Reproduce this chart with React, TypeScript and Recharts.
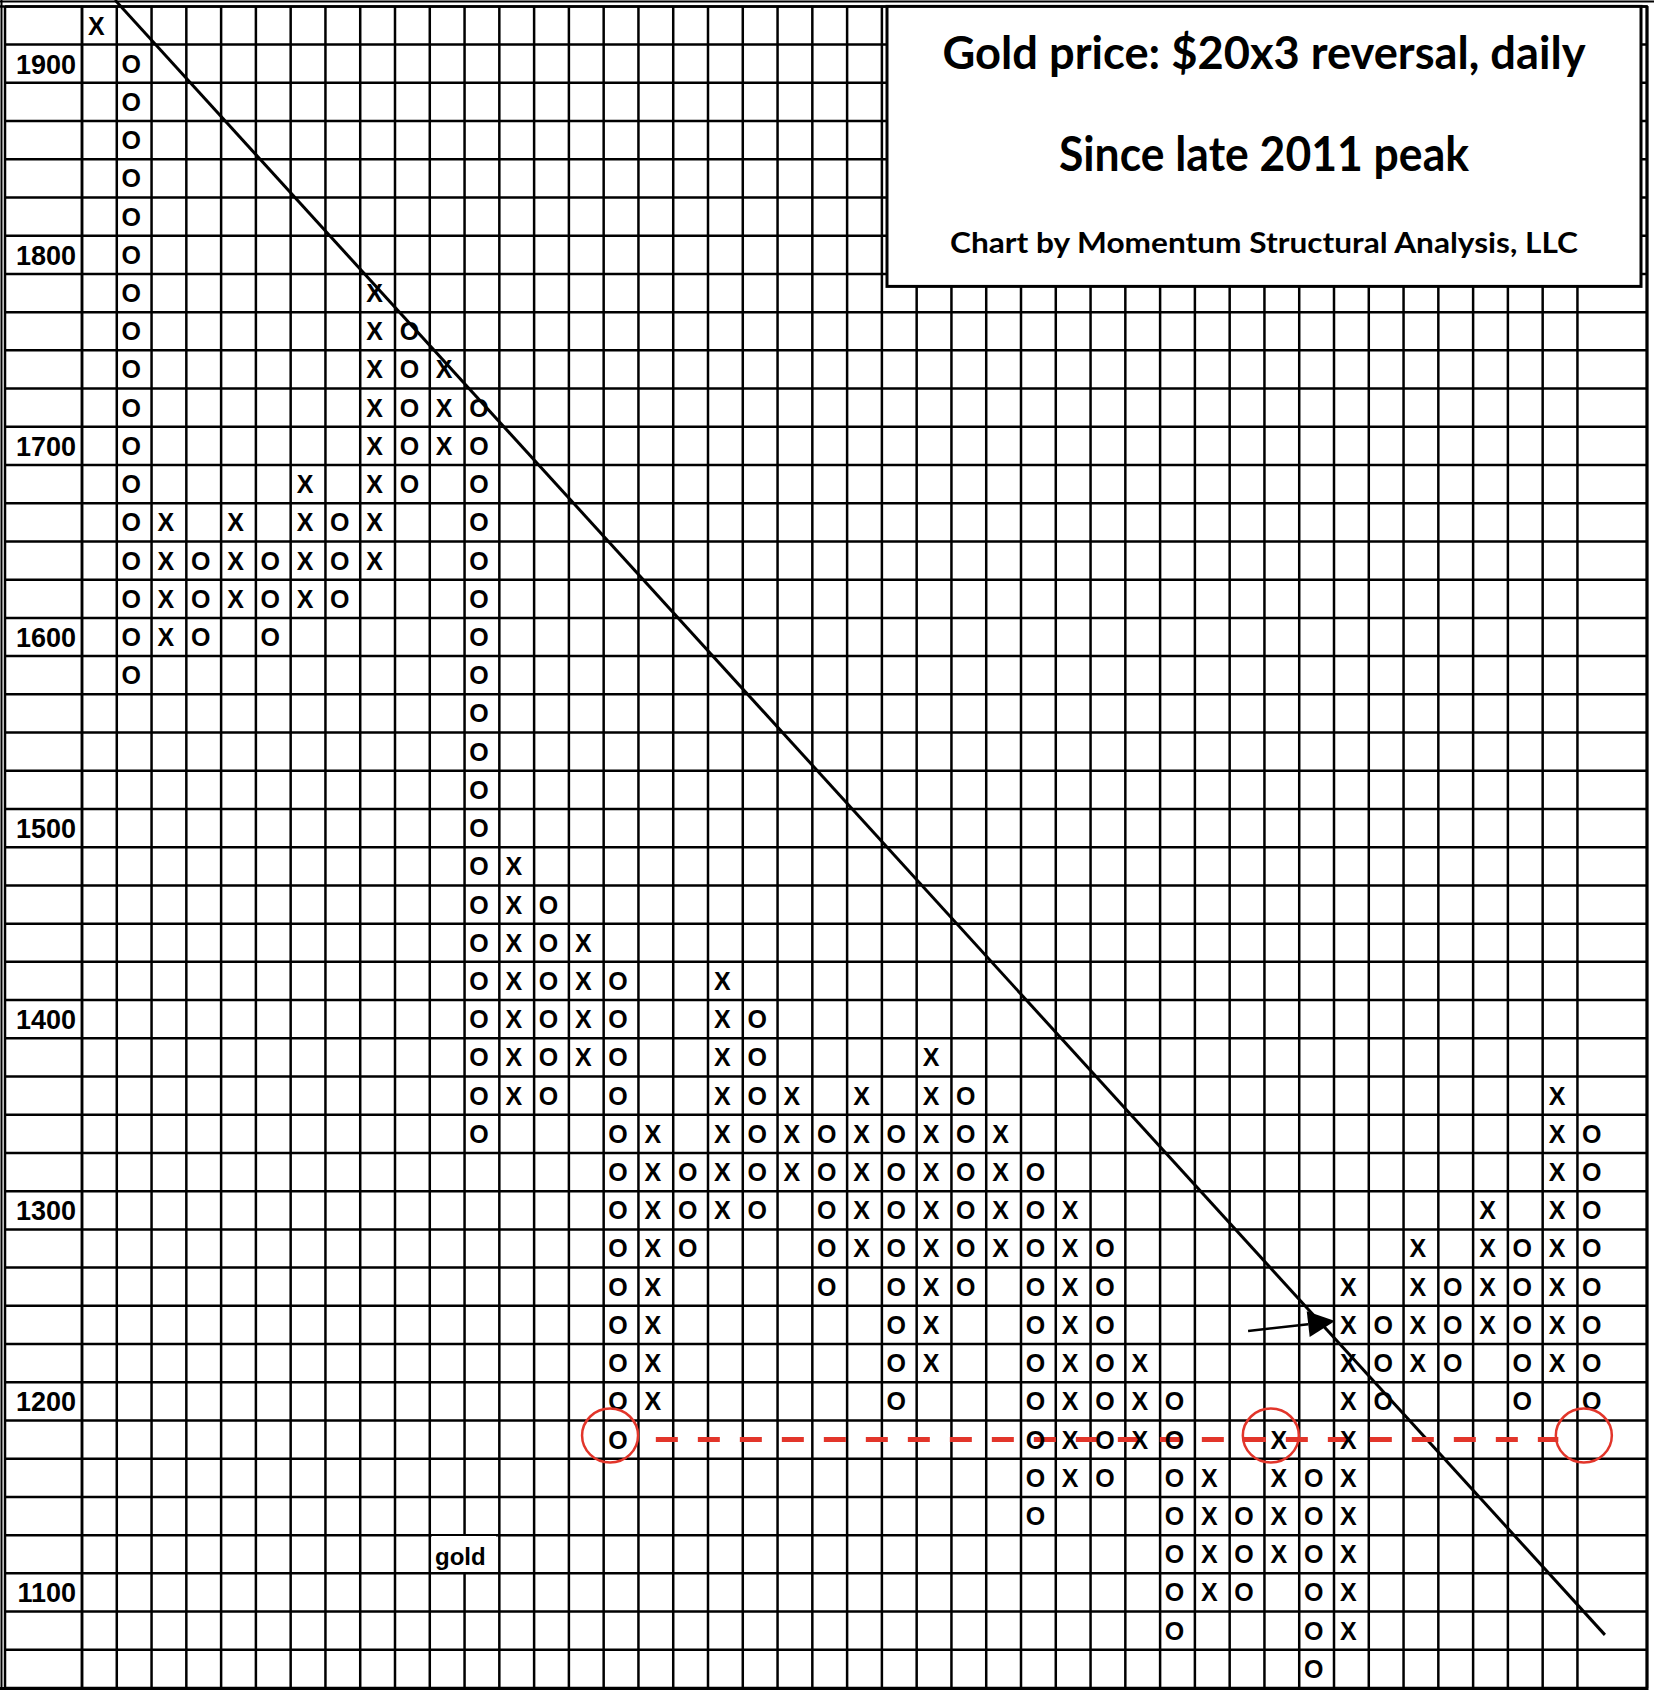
import React from 'react';
import { ScatterChart, Scatter, XAxis, YAxis, CartesianGrid, ReferenceLine, Customized } from 'recharts';

// Point & figure columns, left to right ($20 boxes)
const COLUMN_KIND = [
  'X', 'O', 'X', 'O', 'X', 'O', 'X', 'O', 'X', 'O',
  'X', 'O', 'X', 'O', 'X', 'O', 'X', 'O', 'X', 'O',
  'X', 'O', 'X', 'O', 'X', 'O', 'X', 'O', 'X', 'O',
  'X', 'O', 'X', 'O', 'X', 'O', 'X', 'O', 'X', 'O',
  'X', 'O', 'X', 'O',
];
const COLUMN_HIGH = [
  1920, 1900, 1660, 1640, 1660, 1640, 1680, 1660, 1780, 1760,
  1740, 1720, 1480, 1460, 1440, 1420, 1340, 1320, 1420, 1400,
  1360, 1340, 1360, 1340, 1380, 1360, 1340, 1320, 1300, 1280,
  1220, 1200, 1160, 1140, 1180, 1160, 1260, 1240, 1280, 1260,
  1300, 1280, 1360, 1340,
];
const COLUMN_LOW = [
  1920, 1580, 1600, 1600, 1620, 1600, 1620, 1620, 1640, 1680,
  1700, 1340, 1360, 1360, 1380, 1180, 1200, 1280, 1300, 1300,
  1320, 1260, 1280, 1200, 1220, 1260, 1280, 1140, 1160, 1160,
  1180, 1080, 1100, 1100, 1120, 1060, 1080, 1200, 1220, 1220,
  1240, 1200, 1220, 1200,
];

const PRICE_LABELS = [1900, 1800, 1700, 1600, 1500, 1400, 1300, 1200, 1100];
const BOX = 20;
const PRICE_MIN = 1050;
const PRICE_MAX = 1930;
const COLUMN_COUNT = 45;

// support level and the three circled columns on it
const SUPPORT_LEVEL = 1180;
const SUPPORT_FROM = 16;
const SUPPORT_TO = 41.95;
const CIRCLED_COLUMNS = [15, 34, 43];

// downtrend line and breakout arrow
const TREND_START = { col: 0.45, price: 1933.3 };
const TREND_END = { col: 43.29, price: 1077.8 };
const ARROW_TAIL = { col: 33.03, price: 1236.8 };
const ARROW_TIP = { col: 35.53, price: 1242 };

const RED = '#e2352a';
const ROW_H = (1688 - 6.4) / 44;
const MARK_FONT = "'Liberation Sans', Arial, sans-serif";
const TITLE_FONT = "Lato, 'Open Sans', sans-serif";

const boxes = COLUMN_KIND.flatMap((kind, col) => {
  const out: { col: number; price: number; kind: string }[] = [];
  for (let p = COLUMN_LOW[col]; p <= COLUMN_HIGH[col]; p += BOX) out.push({ col, price: p, kind });
  return out;
});
const xBoxes = boxes.filter(b => b.kind === 'X');
const oBoxes = boxes.filter(b => b.kind === 'O');
const circles = CIRCLED_COLUMNS.map(col => ({ col, price: SUPPORT_LEVEL }));

const columnEdges = Array.from({ length: COLUMN_COUNT + 1 }, (_, i) => i - 0.5);
const rowEdges = Array.from({ length: (PRICE_MAX - PRICE_MIN) / BOX + 1 }, (_, i) => PRICE_MAX - i * BOX);

const Mark = (props: any) => {
  const { cx, cy, payload } = props;
  return (
    <text x={cx - 3} y={cy + 9} textAnchor="middle" fontFamily={MARK_FONT} fontWeight={700} fontSize={25} fill="#000">
      {payload.kind}
    </text>
  );
};

const Circle = (props: any) => {
  const { cx, cy } = props;
  return <ellipse cx={cx - 11} cy={cy - 4} rx={28} ry={27} fill="none" stroke={RED} strokeWidth={2.5} />;
};

const PriceTick = (props: any) => {
  const { y, payload } = props;
  const price = payload.value - BOX / 2;
  if (!PRICE_LABELS.includes(price)) return <g />;
  return (
    <text x={76} y={y + ROW_H / 2 + 10} textAnchor="end" fontFamily={MARK_FONT} fontWeight={700} fontSize={27} fill="#000">
      {price}
    </text>
  );
};

const Arrow = (props: any) => {
  const { x1, y1, x2, y2 } = props;
  const len = Math.hypot(x2 - x1, y2 - y1);
  const ux = (x2 - x1) / len;
  const uy = (y2 - y1) / len;
  const bx = x2 - ux * 27;
  const by = y2 - uy * 27;
  return (
    <g>
      <line x1={x1} y1={y1} x2={bx} y2={by} stroke="#000" strokeWidth={2.5} />
      <polygon
        points={`${x2},${y2} ${bx - uy * 13},${by + ux * 13} ${bx + uy * 13},${by - ux * 13}`}
        fill="#000"
      />
    </g>
  );
};

const Overlay = () => (
  <g>
    {/* frame */}
    <line x1={0} y1={1.5} x2={1654} y2={1.5} stroke="#000" strokeWidth={2} />
    <line x1={0} y1={6.4} x2={1648} y2={6.4} stroke="#000" strokeWidth={2.5} />
    <line x1={1.5} y1={0} x2={1.5} y2={1690} stroke="#000" strokeWidth={2} />
    <line x1={5} y1={6} x2={5} y2={1689} stroke="#000" strokeWidth={2.5} />
    <line x1={1647} y1={6} x2={1647} y2={1690} stroke="#000" strokeWidth={3} />
    <line x1={0} y1={1688.5} x2={1648} y2={1688.5} stroke="#000" strokeWidth={3} />

    {/* series name */}
    <rect x={432} y={1536} width={64} height={36} fill="#fff" />
    <text x={435} y={1565} fontFamily={MARK_FONT} fontWeight={700} fontSize={24} fill="#000">gold</text>

    {/* title box */}
    <rect x={887} y={6.4} width={754} height={280} fill="#fff" stroke="#000" strokeWidth={3} />
    <g fontFamily={TITLE_FONT} fontWeight={700} fill="#000" textAnchor="middle">
      <text x={1264} y={69} fontSize={45} textLength={643} lengthAdjust="spacingAndGlyphs">
        Gold price: $20x3 reversal, daily
      </text>
      <text x={1264} y={171} fontSize={47} textLength={410} lengthAdjust="spacingAndGlyphs">
        Since late 2011 peak
      </text>
      <text x={1264} y={253} fontSize={28} textLength={628} lengthAdjust="spacingAndGlyphs">
        Chart by Momentum Structural Analysis, LLC
      </text>
    </g>
  </g>
);

export default function App() {
  return (
    <div style={{ position: 'absolute', left: 0, top: 0, width: 1654, height: 1694, background: '#fff' }}>
      <ScatterChart width={1654} height={1694} margin={{ top: 6.4, right: 7, bottom: 6, left: 0 }}>
        <XAxis
          type="number"
          dataKey="col"
          domain={[-0.5, COLUMN_COUNT - 0.5]}
          ticks={columnEdges}
          allowDataOverflow
          hide
        />
        <YAxis
          type="number"
          dataKey="price"
          domain={[PRICE_MIN, PRICE_MAX]}
          ticks={rowEdges}
          interval={0}
          allowDataOverflow
          width={82}
          tickSize={77}
          tickMargin={0}
          tickLine={{ stroke: '#000', strokeWidth: 2.5 }}
          axisLine={{ stroke: '#000', strokeWidth: 2.5 }}
          tick={PriceTick}
        />
        <CartesianGrid stroke="#000" strokeWidth={2.5} strokeOpacity={1} />
        <Scatter data={xBoxes} shape={Mark} isAnimationActive={false} />
        <Scatter data={oBoxes} shape={Mark} isAnimationActive={false} />
        <ReferenceLine
          segment={[{ x: TREND_START.col, y: TREND_START.price }, { x: TREND_END.col, y: TREND_END.price }]}
          stroke="#000"
          strokeWidth={3}
          ifOverflow="visible"
        />
        <ReferenceLine
          segment={[{ x: SUPPORT_FROM, y: SUPPORT_LEVEL }, { x: SUPPORT_TO, y: SUPPORT_LEVEL }]}
          stroke={RED}
          strokeWidth={5}
          strokeDasharray="22 20"
        />
        <Scatter data={circles} shape={Circle} isAnimationActive={false} />
        <ReferenceLine
          segment={[{ x: ARROW_TAIL.col, y: ARROW_TAIL.price }, { x: ARROW_TIP.col, y: ARROW_TIP.price }]}
          shape={Arrow}
        />
        <Customized component={Overlay} />
      </ScatterChart>
    </div>
  );
}
